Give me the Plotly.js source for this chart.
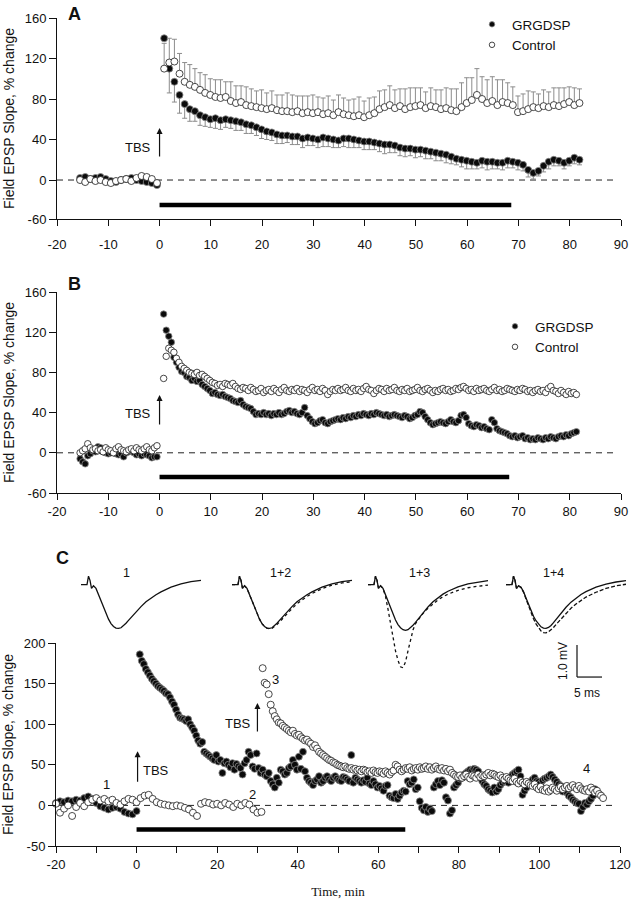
<!DOCTYPE html>
<html>
<head>
<meta charset="utf-8">
<script src="https://cdn.plot.ly/plotly-3.0.1.min.js"></script>
<style>html,body{margin:0;padding:0;background:#fff;}#chart{width:635px;height:899px;}</style>
</head>
<body>
<div id="chart"></div>
<script>
// ---------------- DATA ----------------
// Panel A (1-min bins). Baseline starts at -15.5 min, post-TBS starts at 0.9 min
const aBaseStart = -15.5, aBaseStep = 1;
const aPostStart = 0.9, aPostStep = 1;
const aGrgBase = [2,3,1,2,3,1,-1,-2,0,1,2,0,-1,-2,-3,-5];
const aCtlBase = [0,-2,1,-1,0,-2,-3,-1,0,1,-1,2,4,3,1,-3];
const aGrgPost = [140,110,97,84,75,70,68,64,62,60, 61,59,60,59,58,57,55,54,52,50, 48,47,45,44,44,43,43,41,42,41,
  40,42,41,40,39,41,41,40,39,38, 38,37,36,35,35,34,32,31,31,30, 30,29,28,27,26,25,23,21,20,19,
  18,17,19,18,18,17,17,19,18,17, 15,10,7,9,14,18,20,19,17,19, 22,20];
const aCtlPost = [110,116,117,105,97,94,92,89,86,84, 82,81,82,78,76,77,74,73,72,71, 70,71,69,68,68,67,68,66,67,66,
  67,65,66,64,67,65,64,63,64,62, 64,66,70,72,74,71,73,70,72,73, 74,71,73,72,70,71,69,68,72,76,
  79,84,80,76,78,74,77,76,74,67, 68,70,72,71,73,72,74,73,75,77, 74,76];
const aCtlErrUp = [25,24,22,20,19,20,18,17,18,16, 17,18,15,19,17,16,18,17,16,18, 16,17,15,16,18,17,15,17,16,18,
  15,16,17,15,17,16,15,17,18,16, 17,16,18,17,19,18,17,20,19,18, 17,16,18,17,19,20,21,22,24,25,
  22,26,22,23,24,25,22,20,18,16, 17,18,15,14,16,15,17,18,16,15, 17,14];
const aGrgErrDown = [0,24,20,18,14,12,10,10,9,8, 10,9,8,8,9,8,9,8,8,9, 8,8,9,8,7,8,8,9,8,7,
  8,9,8,8,7,8,9,8,7,8, 8,7,8,9,8,7,8,8,7,8, 7,8,7,8,7,8,7,6,7,8,
  7,6,7,8,7,6,7,7,6,7, 6,7,6,5,6,7,6,5,6,5, 6,5];

// Panel B (0.5-min bins)
const bBaseStart = -15.5, bBaseStep = 0.5;
const bPostStart = 0.8, bPostStep = 0.5;
const bGrgBase = [-6,-9,-11,-3,-1,2,1,6,5,1, 0,-1,0,1,-1,-2,-1,-4,0,1, 2,0,-2,-1,-3,-1,-2,-3,-5,-4, -4];
const bCtlBase = [0,2,4,9,5,3,4,2,3,1, 5,3,2,0,4,6,3,2,1,3, 4,2,5,3,2,4,6,3,2,5, 7];
const bGrgPost = [138,122,116,110,95,90,85,81,80,76, 75,72,74,71,72,68,66,64,62,59,
  60,58,57,58,56,55,54,52,51,50, 52,48,46,45,44,41,38,39,38,40,
  38,39,37,39,38,40,38,39,41,42, 40,41,39,38,40,45,37,34,31,29,
  30,32,33,30,29,31,32,33,34,33, 35,34,36,35,37,36,38,37,39,38,
  37,39,38,40,39,38,37,38,36,37, 38,37,36,35,37,36,34,35,37,38,
  41,40,36,33,30,28,29,30,31,30, 29,31,33,31,30,32,37,38,35,29,
  27,26,28,27,25,26,24,23,33,30, 24,22,21,20,19,17,16,17,15,16,
  17,14,15,13,14,13,15,14,13,15, 14,16,15,14,16,17,16,18,17,19, 20,21];
const bCtlPost = [74,96,104,102,100,94,90,86,84,82, 80,79,78,80,77,78,76,74,72,70,
  69,67,68,66,69,68,67,69,66,64, 63,65,64,62,65,63,61,62,64,60,
  62,63,61,64,62,60,63,65,62,61, 63,62,64,61,63,62,60,63,65,62,
  63,61,64,62,58,61,63,62,64,62, 63,65,62,61,64,62,63,61,64,66,
  63,62,59,62,64,63,61,64,62,63, 65,62,61,63,62,64,61,62,63,65,
  62,61,63,64,62,60,62,61,63,64, 62,63,61,62,64,63,65,66,64,62,
  63,61,64,62,63,64,62,61,63,65, 62,63,61,62,64,63,62,61,63,62,
  64,63,61,62,60,62,63,61,62,60, 64,66,62,61,59,62,60,58,61,59, 60,58];

// Panel C
const cGrgBaseStart = -20, cGrgBaseStep = 1;
const cGrgPostStart = 0.8, cGrgPostStep = 0.5;
const cCtlBaseStart = -20, cCtlBaseStep = 1;
const cCtlPostStart = 31.3, cCtlPostStep = 0.5;
const cGrgBase = [3,5,4,6,5,7,6,9,11,8, 3,-1,-3,-5,-3,-2,-4,-8,-10,-11, -7];
const cGrgPost = [186,178,174,168,164,160,156,153,150,147, 145,143,141,138,137,133,128,124,118,112,
  108,107,106,104,106,100,96,92,86,80, 76,78,66,64,62,60,58,56,62,54,
  56,40,52,54,50,47,52,44,51,48, 46,38,52,56,66,62,48,45,64,46,
  40,44,38,36,40,30,26,22,34,28, 44,42,38,40,46,48,56,50,44,60,
  45,66,42,34,30,28,25,30,32,36, 28,30,34,36,32,30,34,36,33,31,
  30,35,34,32,30,62,28,34,32,30, 28,31,29,34,27,25,30,26,22,24,
  21,18,24,25,12,10,9,14,8,12, 16,18,17,30,26,28,32,20,22,5,
  -3,-6,-2,-8,-4,-7,22,26,30,25, 31,28,10,6,-10,-6,22,25,28,33,
  34,38,40,42,44,43,45,44,42,36, 30,26,24,20,18,16,22,17,20,25,
  28,30,32,28,34,38,40,42,44,36, 13,18,22,28,26,32,34,30,29,27,
  31,33,34,36,38,35,32,29,26,24, 17,20,16,12,10,7,5,3,2,-7,
  -2,3,1,5,8,12,20];
const cCtlBase = [2,-9,-4,0,-13,-2,3,-1,4,7, 9,6,8,5,7,3,1,5,8,7, 4,9,12,13,8,4,2,1,0,-1,
  0,-1,-3,-5,-9,-13,2,4,3,1, 2,0,3,1,-2,2,0,3,1,-5, -9,-8];
const cCtlPost = [169,151,149,137,124,116,110,106,102,101, 98,96,94,92,90,92,88,86,87,84,
  82,80,81,78,76,72,74,70,66,64, 62,60,58,56,55,53,52,50,49,48,
  47,48,46,45,46,44,45,43,44,42, 44,43,41,42,40,43,41,40,42,41,
  39,42,40,38,41,43,50,48,44,42, 44,46,45,47,43,45,46,44,47,45,
  46,48,45,47,44,46,48,45,44,46, 43,45,42,44,40,38,36,35,37,34,
  36,38,35,33,37,36,34,38,35,37, 36,38,40,37,39,38,36,35,37,34,
  32,35,33,31,30,33,29,27,30,28, 26,29,27,25,24,26,22,20,23,19,
  18,21,17,19,22,20,18,21,23,20, 22,24,21,23,25,22,20,24,21,19,
  18,20,17,22,19,16,18,14,12,9];

// Axis tick labels
const xTicksAB = [-20,-10,0,10,20,30,40,50,60,70,80,90];
const xTickTextAB = ['-20','-10','0','10','20','30','40','50','60','70','80','90'];
const yTickTextAB = ['-60','0','40','80','120','160'];
const xTicksC = [-20,-10,0,10,20,30,40,50,60,70,80,90,100,110,120];
const xTickTextC = ['-20','','0','','20','','40','','60','','80','','100','','120'];
const yTicksC = [-50,0,50,100,150,200];
const yTickTextC = ['-50','0','50','100','150','200'];

// Drug application bars (min)
const drugStart = 0, drugEndA = 68.6, drugEndB = 68.2, drugEndC = 66.7;

// EPSP traces (ms, mV)
const wfT = [0,1.2,1.5,1.8,2.1,2.5,3,3.5,4,4.5,5,5.5,6,6.5,7,7.5,8,8.5,9,9.5,10,11,12,13,14,15,16,18,20,22,24];
const wf1 = [-0.08,-0.08,0.18,0.05,-0.2,-0.12,-0.2,-0.4,-0.62,-0.82,-1.0,-1.16,-1.3,-1.39,-1.44,-1.45,-1.43,-1.37,-1.29,-1.2,-1.11,-0.93,-0.77,-0.62,-0.5,-0.4,-0.31,-0.16,-0.06,0.01,0.05];
const wf12a = [-0.08,-0.08,0.18,0.05,-0.2,-0.12,-0.2,-0.4,-0.62,-0.82,-1.0,-1.16,-1.3,-1.39,-1.44,-1.45,-1.43,-1.37,-1.29,-1.2,-1.11,-0.93,-0.77,-0.62,-0.5,-0.4,-0.31,-0.16,-0.06,0.01,0.05];
const wf12b = [-0.08,-0.08,0.18,0.05,-0.2,-0.12,-0.2,-0.4,-0.62,-0.82,-1.0,-1.16,-1.3,-1.39,-1.44,-1.46,-1.45,-1.4,-1.33,-1.25,-1.16,-0.99,-0.83,-0.68,-0.56,-0.45,-0.36,-0.21,-0.1,-0.03,0.01];
const wf13a = [-0.08,-0.08,0.18,0.05,-0.2,-0.12,-0.2,-0.4,-0.62,-0.83,-1.02,-1.19,-1.33,-1.43,-1.49,-1.51,-1.49,-1.43,-1.35,-1.26,-1.16,-0.96,-0.78,-0.62,-0.49,-0.38,-0.29,-0.15,-0.06,0.0,0.04];
const wf13b = [-0.08,-0.08,0.18,0.05,-0.2,-0.12,-0.2,-0.45,-0.85,-1.3,-1.75,-2.15,-2.45,-2.65,-2.68,-2.5,-2.15,-1.8,-1.5,-1.3,-1.18,-0.98,-0.82,-0.68,-0.56,-0.46,-0.38,-0.26,-0.18,-0.13,-0.1];
const wf14a = [-0.08,-0.08,0.18,0.05,-0.2,-0.12,-0.16,-0.3,-0.5,-0.7,-0.9,-1.07,-1.21,-1.32,-1.4,-1.44,-1.45,-1.42,-1.36,-1.27,-1.17,-0.97,-0.79,-0.63,-0.5,-0.39,-0.3,-0.16,-0.07,0.0,0.04];
const wf14b = [-0.08,-0.08,0.18,0.05,-0.2,-0.12,-0.17,-0.32,-0.53,-0.75,-0.96,-1.15,-1.31,-1.44,-1.53,-1.58,-1.59,-1.56,-1.5,-1.42,-1.33,-1.15,-0.98,-0.82,-0.69,-0.57,-0.47,-0.32,-0.2,-0.12,-0.07];
const scaleBarMs = 5, scaleBarMv = 1.0;

// ---------------- HELPERS ----------------
function times(start, step, n){ const o=[]; for(let i=0;i<n;i++) o.push(+(start+i*step).toFixed(3)); return o; }
const nulls = n => new Array(n).fill(null);

const FONT = 'Liberation Sans, Arial, Helvetica, sans-serif';
const grgMarker = (s)=>({color:'#0b0b0b', size:s, line:{color:'#8a8a8a', width:0.8}});
const ctlMarker = (s)=>({color:'#ffffff', size:s, line:{color:'#1a1a1a', width:0.8}});
const errColor = '#8c8c8c';

const aX = times(aBaseStart,aBaseStep,aGrgBase.length).concat(times(aPostStart,aPostStep,aGrgPost.length));
const aXc = times(aBaseStart,aBaseStep,aCtlBase.length).concat(times(aPostStart,aPostStep,aCtlPost.length));
const bX = times(bBaseStart,bBaseStep,bGrgBase.length).concat(times(bPostStart,bPostStep,bGrgPost.length));
const bXc = times(bBaseStart,bBaseStep,bCtlBase.length).concat(times(bPostStart,bPostStep,bCtlPost.length));
const cX = times(cGrgBaseStart,cGrgBaseStep,cGrgBase.length).concat(times(cGrgPostStart,cGrgPostStep,cGrgPost.length));
const cXc = times(cCtlBaseStart,cCtlBaseStep,cCtlBase.length).concat(times(cCtlPostStart,cCtlPostStep,cCtlPost.length));

const traces = [
  // Panel A
  {type:'scatter', mode:'markers', name:'GRGDSP', x:aX, y:aGrgBase.concat(aGrgPost), xaxis:'x', yaxis:'y',
   marker:grgMarker(7), showlegend:false, cliponaxis:false,
   error_y:{type:'data', symmetric:false, array:nulls(aGrgBase.length).concat(aGrgPost.map(()=>0)),
            arrayminus:nulls(aGrgBase.length).concat(aGrgErrDown), color:errColor, thickness:1, width:2.5}},
  {type:'scatter', mode:'markers', name:'Control', x:aXc, y:aCtlBase.concat(aCtlPost), xaxis:'x', yaxis:'y',
   marker:ctlMarker(7), showlegend:false, cliponaxis:false,
   error_y:{type:'data', symmetric:false, array:nulls(aCtlBase.length).concat(aCtlErrUp),
            arrayminus:nulls(aCtlBase.length).concat(aCtlPost.map(()=>0)), color:errColor, thickness:1, width:2.5}},
  // Panel B
  {type:'scatter', mode:'markers', name:'GRGDSP', x:bX, y:bGrgBase.concat(bGrgPost), xaxis:'x2', yaxis:'y2',
   marker:grgMarker(6.5), showlegend:false, cliponaxis:false},
  {type:'scatter', mode:'markers', name:'Control', x:bXc, y:bCtlBase.concat(bCtlPost), xaxis:'x2', yaxis:'y2',
   marker:ctlMarker(6.5), showlegend:false, cliponaxis:false},
  // Panel C
  {type:'scatter', mode:'markers', name:'GRGDSP', x:cX, y:cGrgBase.concat(cGrgPost), xaxis:'x3', yaxis:'y3',
   marker:grgMarker(7), showlegend:false, cliponaxis:false},
  {type:'scatter', mode:'markers', name:'Control', x:cXc, y:cCtlBase.concat(cCtlPost), xaxis:'x3', yaxis:'y3',
   marker:ctlMarker(7), showlegend:false, cliponaxis:false},
  // legend entries (small symbols as in the figure)
  {type:'scatter', mode:'markers', name:'GRGDSP', x:[null], y:[null], xaxis:'x', yaxis:'y', marker:grgMarker(5.5), legend:'legend'},
  {type:'scatter', mode:'markers', name:'Control', x:[null], y:[null], xaxis:'x', yaxis:'y', marker:ctlMarker(5.5), legend:'legend'},
  {type:'scatter', mode:'markers', name:'GRGDSP', x:[null], y:[null], xaxis:'x2', yaxis:'y2', marker:grgMarker(5.5), legend:'legend2'},
  {type:'scatter', mode:'markers', name:'Control', x:[null], y:[null], xaxis:'x2', yaxis:'y2', marker:ctlMarker(5.5), legend:'legend2'},
];
// EPSP traces
const wfLine = (dash)=>({color:'#111', width:1.3, dash:dash});
const wfSets = [
  {ax:'4', data:[[wf1,'solid']]},
  {ax:'5', data:[[wf12a,'solid'],[wf12b,'dot']]},
  {ax:'6', data:[[wf13a,'solid'],[wf13b,'dot']]},
  {ax:'7', data:[[wf14a,'solid'],[wf14b,'dash']]},
];
wfSets.forEach(s=>{
  s.data.forEach(d=>{
    traces.push({type:'scatter', mode:'lines', x:wfT, y:d[0], xaxis:'x'+s.ax, yaxis:'y'+s.ax,
      line:wfLine(d[1]==='dash'?'4px,2px':d[1]), showlegend:false, cliponaxis:false});
  });
});

// ---------------- LAYOUT ----------------
const W=635, H=899;
const px = v=>v/W, py = v=>1-v/H;
const tickF = {family:FONT, size:13, color:'#111'};
const yTitle = {text:'Field EPSP Slope, % change', font:{family:FONT, size:14, color:'#111'}, standoff:6};
const baseAxis = {showgrid:false, zeroline:false, showline:true, linecolor:'#111', linewidth:1,
  ticks:'outside', tickcolor:'#111', tickwidth:1, tickfont:tickF};

const invis = {visible:false, showgrid:false, zeroline:false, fixedrange:true};
const wfY = Object.assign({}, invis, {domain:[py(680), py(570)], range:[-3.0625, 0.375]});

const layout = {
  width:W, height:H, margin:{l:0,r:0,t:0,b:0}, paper_bgcolor:'#fff', plot_bgcolor:'rgba(0,0,0,0)',
  font:{family:FONT, color:'#111'}, showlegend:true,
  xaxis: Object.assign({}, baseAxis, {domain:[px(57),px(621)], range:[-20,90], tickmode:'array', tickvals:xTicksAB, ticktext:xTickTextAB,
          ticklen:6, anchor:'y', ticklabelstandoff:7}),
  yaxis: Object.assign({}, baseAxis, {domain:[py(219),py(18)], range:[-38.5,160], tickmode:'array', tickvals:[-38.5,0,40,80,120,160],
          ticktext:yTickTextAB, ticklen:7, anchor:'x', title:yTitle}),
  xaxis2: Object.assign({}, baseAxis, {domain:[px(57),px(621)], range:[-20,90], tickmode:'array', tickvals:xTicksAB, ticktext:xTickTextAB,
          ticklen:6, anchor:'y2'}),
  yaxis2: Object.assign({}, baseAxis, {domain:[py(493),py(292)], range:[-40,160], tickmode:'array', tickvals:[-40,0,40,80,120,160],
          ticktext:yTickTextAB, ticklen:7, anchor:'x2', title:yTitle}),
  xaxis3: Object.assign({}, baseAxis, {domain:[px(56),px(620)], range:[-20,120], tickmode:'array', tickvals:xTicksC, ticktext:xTickTextC,
          ticklen:6, anchor:'y3',
          title:{text:'Time, min', font:{family:'Liberation Serif, Times New Roman, serif', size:13, color:'#111'}, standoff:16}}),
  yaxis3: Object.assign({}, baseAxis, {domain:[py(846),py(643)], range:[-50,200], tickmode:'array', tickvals:yTicksC, ticktext:yTickTextC,
          ticklen:7, anchor:'x3', title:yTitle}),
  xaxis4: Object.assign({}, invis, {domain:[px(76),px(206)], range:[-1,25], anchor:'y4'}),
  xaxis5: Object.assign({}, invis, {domain:[px(227),px(357)], range:[-1,25], anchor:'y5'}),
  xaxis6: Object.assign({}, invis, {domain:[px(363),px(493)], range:[-1,25], anchor:'y6'}),
  xaxis7: Object.assign({}, invis, {domain:[px(501),px(631)], range:[-1,25], anchor:'y7'}),
  yaxis4: Object.assign({}, wfY, {anchor:'x4'}),
  yaxis5: Object.assign({}, wfY, {anchor:'x5'}),
  yaxis6: Object.assign({}, wfY, {anchor:'x6'}),
  yaxis7: Object.assign({}, wfY, {anchor:'x7'}),
  legend: {x:px(472), xanchor:'left', y:py(9), yanchor:'top', bgcolor:'rgba(0,0,0,0)', borderwidth:0,
           font:{family:FONT, size:13.5, color:'#111'}, itemclick:false},
  legend2: {x:px(495), xanchor:'left', y:py(311), yanchor:'top', bgcolor:'rgba(0,0,0,0)', borderwidth:0,
           font:{family:FONT, size:13.5, color:'#111'}, itemclick:false},
  shapes: [
    // zero dashed lines
    {type:'line', xref:'x', yref:'y', x0:-20, x1:89, y0:0, y1:0, line:{color:'#222', width:1, dash:'6px,5px'}, layer:'below'},
    {type:'line', xref:'x2', yref:'y2', x0:-20, x1:89, y0:0, y1:0, line:{color:'#222', width:1, dash:'6px,5px'}, layer:'below'},
    {type:'line', xref:'x3', yref:'y3', x0:-20, x1:118.5, y0:0, y1:0, line:{color:'#222', width:1, dash:'6px,5px'}, layer:'below'},
    // drug bars
    {type:'line', xref:'x', yref:'y', x0:drugStart, x1:drugEndA, y0:-24.7, y1:-24.7, line:{color:'#000', width:4.5}},
    {type:'line', xref:'x2', yref:'y2', x0:drugStart, x1:drugEndB, y0:-24, y1:-24, line:{color:'#000', width:4.5}},
    {type:'line', xref:'x3', yref:'y3', x0:drugStart, x1:drugEndC, y0:-29.6, y1:-29.6, line:{color:'#000', width:4.5}},
    // scale bar
    {type:'line', xref:'x7', yref:'y7', x0:14.2, x1:14.2, y0:-1.97, y1:-1.97-scaleBarMv, line:{color:'#111', width:1.2}},
    {type:'line', xref:'x7', yref:'y7', x0:14.2, x1:14.2+scaleBarMs, y0:-1.97-scaleBarMv, y1:-1.97-scaleBarMv, line:{color:'#111', width:1.2}},
  ],
  annotations: []
};
const ann = layout.annotations;
const arrow = (xr, yr, x, y, len)=>({xref:xr, yref:yr, x:x, y:y, ax:0, ay:len, axref:'pixel', ayref:'pixel', text:'',
   showarrow:true, arrowhead:2, arrowsize:1, arrowwidth:1.2, arrowcolor:'#111', standoff:0, startstandoff:0});
const label = (xr, yr, x, y, t, xa, size, extra)=>Object.assign({xref:xr, yref:yr, x:x, y:y, text:t, showarrow:false,
   xanchor:xa||'center', yanchor:'middle', font:{family:FONT, size:size||13, color:'#111'}}, extra||{});
// Panel letters
ann.push(label('paper','paper', px(74), py(14), '<b>A</b>', 'center', 18));
ann.push(label('paper','paper', px(74), py(284), '<b>B</b>', 'center', 18));
ann.push(label('paper','paper', px(62), py(558), '<b>C</b>', 'center', 18));
// TBS arrows
ann.push(arrow('x','y', 0, 51.4, 30)); ann.push(label('x','y', -1.2, 32.6, 'TBS', 'right', 13));
ann.push(arrow('x2','y2', 0, 57.6, 31)); ann.push(label('x2','y2', -1.2, 38.8, 'TBS', 'right', 13));
ann.push(arrow('x3','y3', 0.25, 66.7, 32)); ann.push(label('x3','y3', 1.1, 43, 'TBS', 'left', 13));
ann.push(arrow('x3','y3', 30, 126, 30)); ann.push(label('x3','y3', 28.8, 101, 'TBS', 'right', 13));
// point labels
ann.push(label('x3','y3', -7.4, 26, '1', 'center', 13));
ann.push(label('x3','y3', 28.8, 13.6, '2', 'center', 13));
ann.push(label('x3','y3', 34.4, 155.6, '3', 'center', 13));
ann.push(label('x3','y3', 111.7, 45.7, '4', 'center', 13));
// trace labels
ann.push(label('x4','y4', 9, 0.28, '1', 'center', 12.5));
ann.push(label('x5','y5', 9.6, 0.28, '1+2', 'center', 12.5));
ann.push(label('x6','y6', 10.2, 0.28, '1+3', 'center', 12.5));
ann.push(label('x7','y7', 9.4, 0.28, '1+4', 'center', 12.5));
// scale bar labels
ann.push(label('paper','paper', px(563), py(661), '1.0 mV', 'center', 12, {textangle:-90}));
ann.push(label('paper','paper', px(587), py(693), '5 ms', 'center', 12));

Plotly.newPlot('chart', traces, layout, {staticPlot:true, displayModeBar:false});
</script>
</body>
</html>
